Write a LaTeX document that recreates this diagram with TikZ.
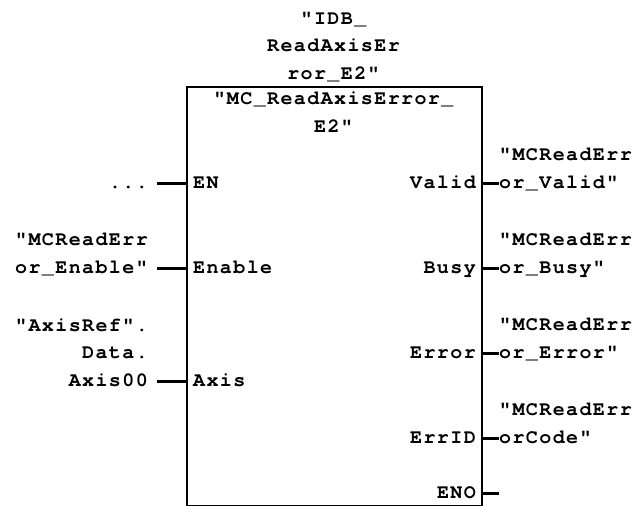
\documentclass[tikz,border=0pt]{standalone}
\usepackage{fontspec}
\newfontfamily\plcfont[LetterSpace=7]{texgyrecursor-bold.otf}
\begin{document}
\begin{tikzpicture}[x=1pt,y=-1pt,
  txt/.style={font=\plcfont\fontsize{20}{27.5}\selectfont, inner sep=0pt},
  lft/.style={txt, anchor=base east, align=right},
  rgt/.style={txt, anchor=base west, align=left},
  stub/.style={line width=3pt},
  boxline/.style={line width=1.5pt}]
\useasboundingbox (0,0) rectangle (643,506);
% function block
\node[draw, boxline, anchor=north west, minimum width=295pt, minimum height=419pt, inner sep=0pt] (fb) at (186,86) {};
% instance DB and block name
\node[txt, anchor=base, align=center] (idb) at (333.5,79) {"IDB\_\\ReadAxisEr\\ror\_E2"};
\node[txt, anchor=base, align=center] (name) at (333.5,132) {"MC\_ReadAxisError\_\\E2"};
% input pin names
\node[rgt] (pEN) at (193,188) {EN};
\node[rgt] (pEnable) at (193,273) {Enable};
\node[rgt] (pAxis) at (193,386) {Axis};
% output pin names
\node[lft] (pValid) at (476,188) {Valid};
\node[lft] (pBusy) at (476,273) {Busy};
\node[lft] (pError) at (476,358) {Error};
\node[lft] (pErrID) at (476,443) {ErrID};
\node[lft] (pENO) at (476,498) {ENO};
% input operands
\node[lft] (oEN) at (148,188) {...};
\node[lft] (oEnable) at (148,273) {"MCReadErr\\or\_Enable"};
\node[lft] (oAxis) at (148,386) {"AxisRef".\\Data.\\Axis00};
% output operands
\node[rgt] (oValid) at (499,188) {"MCReadErr\\or\_Valid"};
\node[rgt] (oBusy) at (499,273) {"MCReadErr\\or\_Busy"};
\node[rgt] (oError) at (499,358) {"MCReadErr\\or\_Error"};
\node[rgt] (oErrID) at (499,443) {"MCReadErr\\orCode"};
% stub end points
\coordinate (sEN) at (157,183);
\coordinate (sEnable) at (157,268);
\coordinate (sAxis) at (157,381);
\coordinate (sValid) at (499,183);
\coordinate (sBusy) at (499,268);
\coordinate (sError) at (499,353);
\coordinate (sErrID) at (499,438);
\coordinate (sENO) at (499,493);
\foreach \s in {sEN,sEnable,sAxis}
  \draw[stub] (\s) -- (\s -| fb.west);
\foreach \s in {sValid,sBusy,sError,sErrID,sENO}
  \draw[stub] (\s -| fb.east) -- (\s);
\end{tikzpicture}
\end{document}
